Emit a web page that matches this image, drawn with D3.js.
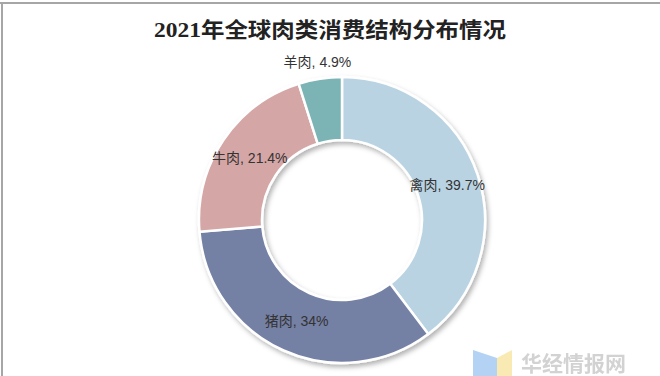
<!DOCTYPE html>
<html>
<head>
<meta charset="utf-8">
<script src="https://cdn.jsdelivr.net/npm/d3@7"></script>
<style>
  body { margin: 0; background: #fff; }
</style>
</head>
<body>
<svg id="chart"></svg>
<script>
const categories = ["禽肉", "猪肉", "牛肉", "羊肉"];
const shares = [39.7, 34, 21.4, 4.9];
const colors = ["#b9d3e3", "#7580a5", "#d5a6a6", "#7bb4b5"];
const title = "2021年全球肉类消费结构分布情况";

const width = 660;
const height = 376;
const cx = 342, cy = 220;
const outerR = 143, innerR = 80;

const data = categories.map((c, i) => ({ name: c, value: shares[i], color: colors[i] }));

const svg = d3.select("#chart")
  .attr("width", width)
  .attr("height", height);

// frame lines (top + left)
svg.append("line").attr("x1", 0).attr("x2", width).attr("y1", 3).attr("y2", 3)
  .attr("stroke", "#a6a6a6").attr("stroke-width", 2);
svg.append("line").attr("x1", 2).attr("x2", 2).attr("y1", 3).attr("y2", height)
  .attr("stroke", "#a6a6a6").attr("stroke-width", 2);

// drop shadow
const defs = svg.append("defs");
const f = defs.append("filter").attr("id", "shadow")
  .attr("x", "-20%").attr("y", "-20%").attr("width", "140%").attr("height", "140%");
f.append("feDropShadow").attr("dx", 2).attr("dy", 3).attr("stdDeviation", 2.5)
  .attr("flood-color", "#000").attr("flood-opacity", 0.3);

svg.append("text")
  .attr("x", 330).attr("y", 37)
  .attr("text-anchor", "middle")
  .attr("font-family", "'Liberation Serif', 'Times New Roman', 'Noto Sans CJK SC', serif")
  .attr("font-weight", "bold")
  .attr("font-size", 21)
  .attr("fill", "#222")
  .attr("textLength", 352)
  .attr("lengthAdjust", "spacingAndGlyphs")
  .text(title);

const pie = d3.pie().sort(null).value(d => d.value);
const arc = d3.arc().innerRadius(innerR).outerRadius(outerR);
const arcs = pie(data);

const g = svg.append("g").attr("transform", `translate(${cx},${cy})`);

g.append("g").attr("filter", "url(#shadow)")
  .selectAll("path")
  .data(arcs)
  .join("path")
  .attr("d", arc)
  .attr("fill", d => d.data.color)
  .attr("stroke", "#fff")
  .attr("stroke-width", 2.5);

// labels: inside on mid ring, small slice pushed outside
const inLabel = d3.arc().innerRadius(111).outerRadius(111);
const outLabel = d3.arc().innerRadius(160).outerRadius(160);

g.selectAll("text.lbl")
  .data(arcs)
  .join("text")
  .attr("class", "lbl")
  .attr("transform", d => `translate(${(d.data.value < 10 ? outLabel : inLabel).centroid(d)})`)
  .attr("text-anchor", "middle")
  .attr("dominant-baseline", "central")
  .attr("font-family", "'Liberation Sans', 'Noto Sans CJK SC', sans-serif")
  .attr("font-size", 14)
  .attr("fill", "#333")
  .text(d => `${d.data.name}, ${d.data.value}%`);

// watermark
const wm = svg.append("g").attr("opacity", 0.75);
wm.append("path").attr("d", "M473,350 L497,358 L497,376 L473,376 Z").attr("fill", "#9cc3f0");
wm.append("path").attr("d", "M497,358 L512,350 L512,376 L497,376 Z").attr("fill", "#f7e39a");
wm.append("text")
  .attr("x", 521).attr("y", 371)
  .attr("font-family", "'Noto Sans CJK SC', sans-serif")
  .attr("font-weight", "bold")
  .attr("font-size", 21)
  .attr("fill", "#c4c4c4")
  .text("华经情报网");
</script>
</body>
</html>
